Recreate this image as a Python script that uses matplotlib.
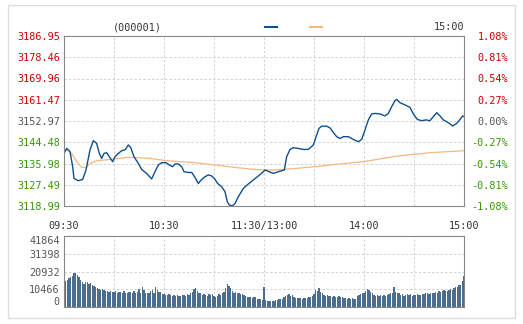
import numpy as np
import matplotlib.pyplot as plt
from matplotlib.patches import Rectangle

# minutes since 09:30 (trading time, 11:30 and 13:00 share minute 120)
price_t = [0, 1.6, 3.6, 5.2, 6, 8.6, 11.2, 13.2, 15.6, 17.6, 19.6, 21.2, 22.6, 24, 25.6,
           27.2, 29.2, 30.6, 32.6, 34.6, 36.6, 38.6, 40, 42, 44.6, 46.6, 49.6, 52.6, 54.6,
           56.6, 58.6, 61.2, 63.2, 65.2, 66.6, 68.6, 70.6, 72, 74.6, 76.6, 78.6, 80.6, 82.6,
           84.6, 86.6, 88.6, 90.2, 92.2, 94.6, 96.6, 98, 99.2, 101, 102.6, 104.6, 107.6,
           110.6, 113.6, 116.6, 119.6, 120.6, 123, 125.6, 128.6, 132.2, 133.6, 135.6, 137.6,
           140.6, 143.6, 146.6, 149.6, 151.6, 153, 154.6, 157.6, 159.6, 161.6, 163.6, 165.6,
           167.6, 170.6, 173.6, 176.6, 178.6, 180.6, 182.6, 184.6, 186.6, 189.6, 192.6, 194.6,
           196.6, 198.6, 199.6, 201.6, 204.6, 207.6, 209.6, 212, 214.6, 217.2, 219.6, 221.6,
           223.6, 225.6, 227.6, 230.6, 233.2, 235.6, 237.6, 239.2, 240]
price = [3140.0, 3142.0, 3140.7, 3134.7, 3130.0, 3129.1, 3129.6, 3133.4, 3141.4, 3145.1,
         3144.0, 3140.0, 3138.0, 3140.0, 3140.3, 3138.7, 3136.7, 3138.7, 3140.0, 3141.1,
         3141.4, 3143.4, 3142.4, 3138.7, 3136.0, 3133.6, 3132.0, 3129.8, 3132.7, 3135.4,
         3136.3, 3136.3, 3135.4, 3134.7, 3135.8, 3135.8, 3134.7, 3132.7, 3132.4, 3132.4,
         3130.4, 3128.0, 3129.6, 3130.7, 3131.4, 3131.0, 3130.0, 3128.0, 3126.7, 3124.7,
         3120.7, 3119.4, 3119.0, 3120.0, 3122.7, 3126.0, 3127.8, 3129.4, 3131.0, 3132.7,
         3133.4, 3132.7, 3132.0, 3132.7, 3133.4, 3138.7, 3141.6, 3142.3, 3142.0, 3141.6,
         3141.6, 3143.4, 3147.4, 3150.0, 3150.9, 3150.9, 3150.2, 3148.4, 3146.7, 3146.0,
         3146.7, 3146.7, 3145.6, 3144.7, 3145.6, 3149.4, 3153.4, 3155.8, 3156.0, 3155.8,
         3155.0, 3156.0, 3158.7, 3161.1, 3161.6, 3160.3, 3159.4, 3158.4, 3155.8, 3153.6,
         3153.1, 3153.4, 3153.1, 3154.7, 3156.3, 3155.0, 3153.4, 3152.3, 3151.0, 3152.0,
         3153.6, 3155.0, 3154.7]

avg_t = [0, 1.6, 4.6, 7.6, 10.6, 13.2, 15.6, 19.6, 27.6, 37.6, 41.6, 51.6, 61.6, 78.6,
         90.6, 102.6, 114.6, 120.6, 126.6, 138.6, 150.6, 162.6, 179.6, 199.6, 219.6, 240]
avg_price = [3140.7, 3141.6, 3140.0, 3136.7, 3134.4, 3134.4, 3136.0, 3137.1, 3137.6, 3138.4,
             3138.4, 3138.0, 3137.1, 3136.3, 3135.4, 3134.4, 3133.6, 3133.4, 3133.4, 3134.0,
             3134.7, 3135.6, 3136.7, 3138.9, 3140.3, 3141.1]

volume = [16900, 15500, 16000, 17000, 17500, 18500, 20000, 20200, 19000, 17500,
          16000, 14500, 13500, 14500, 15000, 13500, 14000, 13000, 12500, 11500,
          11000, 10500, 10000, 10500, 10000, 9500, 9500, 9000, 9500, 9000,
          9000, 9500, 8500, 9000, 9000, 8500, 9500, 8500, 8000, 9000,
          9000, 8500, 9500, 8000, 9000, 10500, 8500, 11500, 10000, 8000,
          8000, 8500, 9500, 10000, 8000, 11500, 10000, 9000, 9000, 7500,
          7500, 7000, 7000, 7500, 7000, 6500, 7000, 6500, 7000, 6500,
          6500, 7000, 7000, 6500, 7500, 7000, 8000, 9000, 10500, 11000,
          9500, 8500, 8000, 7000, 7500, 7000, 6500, 7500, 7000, 7500,
          6500, 6000, 6500, 7500, 7000, 8000, 9000, 11000, 13500, 12500,
          11000, 9500, 8500, 9000, 8500, 8000, 7500, 7500, 7000, 6500,
          6000, 6000, 6000, 5500, 6000, 6000, 5000, 4500, 5000, 4000,
          11500,
          4000, 3500, 3500, 3500, 3500, 3500, 4000, 4000, 4500, 4500,
          5000, 6000, 6500, 7000, 7500, 6500, 7000, 6000, 5500, 5500,
          5500, 5500, 5000, 5500, 5500, 5500, 6000, 6000, 6500, 7500,
          10000, 9500, 11000, 9000, 8000, 7000, 6500, 7000, 6500, 6500,
          6000, 6500, 6000, 6000, 6500, 6000, 6000, 5500, 5500, 5000,
          5500, 5000, 5500, 5000, 5000, 6500, 7000, 7500, 8000, 8000,
          9500, 10500, 10000, 9000, 8000, 7000, 6500, 7000, 6500, 7000,
          6500, 7000, 6500, 7000, 7500, 8000, 8500, 11500, 9000, 8500,
          8000, 7000, 7500, 6500, 7000, 7500, 7000, 7500, 6500, 7000,
          7000, 7500, 7000, 7000, 7500, 7500, 8000, 8000, 7500, 8000,
          8500, 8500, 9000, 8500, 9500, 9000, 9500, 10000, 9500, 9500,
          10000, 10500, 10000, 11000, 11500, 12000, 13000, 13000, 15500, 18000]

base_price = 3152.97
price_ticks = [3118.99, 3127.49, 3135.98, 3144.48, 3152.97, 3161.47, 3169.96, 3178.46, 3186.95]
vol_ticks = [0, 10466, 20932, 31398, 41864]
time_ticks = [0, 60, 120, 180, 240]
time_labels = ['09:30', '10:30', '11:30/13:00', '14:00', '15:00']

RED = '#cc0000'
GREEN = '#339900'
NEUTRAL = '#555555'
GRID = '#d2d2d2'
FRAME = '#888888'

plt.rcParams['font.family'] = ['DejaVu Sans Mono']
plt.rcParams['font.size'] = 7.3

W, H = 523, 324
fig = plt.figure(figsize=(W / 100, H / 100), dpi=100)

# outer light frame
fig.patches.append(Rectangle((8 / W, 1 - 318 / H), 507 / W, 313 / H, transform=fig.transFigure,
                             fill=False, edgecolor='#dddddd', linewidth=1))

ax = fig.add_axes([64 / W, 1 - 206 / H, 400 / W, 170 / H])
ax.plot(avg_t, avg_price, color='#f2b880', linewidth=0.9)
ax.plot(price_t, price, color='#0f4f8c', linewidth=1.0)
ax.set_xlim(0, 240)
ax.set_ylim(price_ticks[0], price_ticks[-1])
ax.set_yticks(price_ticks)
ax.set_yticklabels(['%.2f' % p for p in price_ticks])
for lab, p in zip(ax.get_yticklabels(), price_ticks):
    lab.set_color(RED if p > base_price + 0.01 else (GREEN if p < base_price - 0.01 else NEUTRAL))
ax.set_xticks(time_ticks)
ax.set_xticklabels(time_labels, color='#333333')
ax.set_xticks(np.arange(30, 240, 30), minor=True)
ax.tick_params(axis='both', which='both', length=0)
ax.tick_params(axis='y', pad=3)
ax.tick_params(axis='x', pad=11)
ax.grid(True, which='both', color=GRID, linestyle=(0, (2.5, 2)), linewidth=0.7)
for s in ax.spines.values():
    s.set_color(FRAME)

ax2 = ax.twinx()
ax2.set_ylim(ax.get_ylim())
ax2.set_yticks(price_ticks)
pct = [(p / base_price - 1) * 100 for p in price_ticks]
ax2.set_yticklabels(['%.2f%%' % (abs(v) if abs(v) < 0.005 else v) for v in pct])
for lab, v in zip(ax2.get_yticklabels(), pct):
    lab.set_color(RED if v > 0.005 else (GREEN if v < -0.005 else NEUTRAL))
    lab.set_horizontalalignment('right')
ax2.tick_params(axis='y', length=0, pad=32)
for s in ax2.spines.values():
    s.set_visible(False)

# header line
fig.text(137 / W, 1 - 27 / H, '(000001)', ha='center', va='center', color='#333333')
fig.text(464 / W, 1 - 27 / H, '15:00', ha='right', va='center', color='#333333')
fig.lines.append(plt.Line2D([265 / W, 277 / W], [1 - 27 / H, 1 - 27 / H], color='#0f4f8c',
                            linewidth=1.5, transform=fig.transFigure))
fig.lines.append(plt.Line2D([310 / W, 322 / W], [1 - 27 / H, 1 - 27 / H], color='#f2b880',
                            linewidth=1.5, transform=fig.transFigure))

# volume
axv = fig.add_axes([64 / W, 1 - 307 / H, 400 / W, 71 / H])
axv.bar(np.arange(len(volume)), volume, width=0.62, color='#4c6d8e', linewidth=0)
axv.set_xlim(0, 240)
axv.set_ylim(0, vol_ticks[-1])
axv.set_yticks(vol_ticks)
axv.set_yticklabels([str(v) for v in vol_ticks], color=NEUTRAL)
labs = axv.get_yticklabels()
labs[0].set_verticalalignment('bottom')
labs[-1].set_verticalalignment('top')
axv.set_xticks(np.arange(30, 240, 30))
axv.set_xticklabels([])
axv.tick_params(axis='both', length=0, pad=3)
axv.grid(True, color=GRID, linestyle=(0, (2.5, 2)), linewidth=0.7)
axv.set_axisbelow(True)
for s in axv.spines.values():
    s.set_color(FRAME)

fig.savefig('out.png', dpi=100)
